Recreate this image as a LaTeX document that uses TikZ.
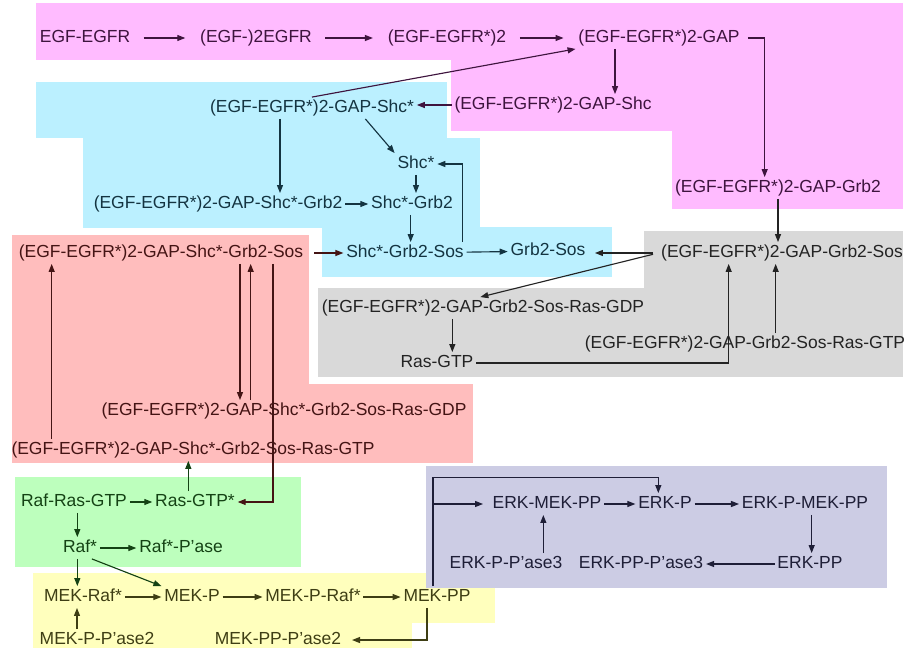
\documentclass[tikz,border=0pt]{standalone}
\usepackage{fontspec}
\setmainfont{Liberation Sans}
\usetikzlibrary{arrows.meta, calc}
\definecolor{pinkbg}{RGB}{255, 187, 255}
\definecolor{cyanbg}{RGB}{187, 240, 255}
\definecolor{greybg}{RGB}{217, 217, 217}
\definecolor{redbg}{RGB}{255, 189, 189}
\definecolor{greenbg}{RGB}{189, 255, 189}
\definecolor{yellowbg}{RGB}{255, 255, 189}
\definecolor{purplebg}{RGB}{204, 204, 228}
\definecolor{pinktxt}{RGB}{62, 20, 62}
\definecolor{cyantxt}{RGB}{20, 52, 65}
\definecolor{greytxt}{RGB}{35, 35, 35}
\definecolor{redtxt}{RGB}{68, 20, 20}
\definecolor{greentxt}{RGB}{20, 66, 20}
\definecolor{yellowtxt}{RGB}{62, 62, 20}
\definecolor{purpletxt}{RGB}{30, 30, 55}
\tikzset{
  sp/.style={font=\fontsize{13.1}{15}\selectfont, text height=9.5pt, text depth=2.5pt, inner sep=2pt},
  rx/.style={-{Triangle[length=6pt, width=4.5pt]}, line width=0.85pt},
  far/.style={shorten <=8pt, shorten >=9pt}
}

\begin{document}
\begin{tikzpicture}[x=0.75pt, y=-0.75pt]
  \useasboundingbox (0,0) rectangle (906,656);
  % coloured compartments
  \fill[pinkbg] (36,3) rectangle (903,60);
  \fill[pinkbg] (451,60) rectangle (672,131);
  \fill[pinkbg] (672,60) rectangle (903,209);
  \fill[cyanbg] (36,82) rectangle (447,138);
  \fill[cyanbg] (83,138) rectangle (480,228);
  \fill[cyanbg] (322,227) rectangle (612,277);
  \fill[greybg] (644,231) rectangle (903,288);
  \fill[greybg] (318,288) rectangle (903,377);
  \fill[redbg] (12,235) rectangle (309,384);
  \fill[redbg] (12,384) rectangle (473,463);
  \fill[greenbg] (15,477) rectangle (301,567);
  \fill[yellowbg] (33,573) rectangle (412,648);
  \fill[yellowbg] (412,573) rectangle (495,623);
  \fill[purplebg] (426,466) rectangle (887,588);

  % receptor
  \node[sp, text=pinktxt] (egfegfr) at (85,38) {EGF-EGFR};
  \node[sp, text=pinktxt] (egf2) at (256,38) {(EGF-)2EGFR};
  \node[sp, text=pinktxt] (dimer) at (447,38) {(EGF-EGFR*)2};
  \node[sp, text=pinktxt] (gap) at (659,38) {(EGF-EGFR*)2-GAP};
  \node[sp, text=pinktxt] (gapshc) at (553,105) {(EGF-EGFR*)2-GAP-Shc};
  \node[sp, text=pinktxt] (gapgrb) at (778,188) {(EGF-EGFR*)2-GAP-Grb2};

  % Shc branch
  \node[sp, text=cyantxt] (gapshcs) at (312,108) {(EGF-EGFR*)2-GAP-Shc*};
  \node[sp, text=cyantxt] (shcs) at (416,164) {Shc*};
  \node[sp, text=cyantxt] (gapshcgrb) at (218,204) {(EGF-EGFR*)2-GAP-Shc*-Grb2};
  \node[sp, text=cyantxt] (shcgrb) at (412,204) {Shc*-Grb2};
  \node[sp, text=cyantxt] (shcgrbsos) at (405,253) {Shc*-Grb2-Sos};
  \node[sp, text=cyantxt] (grbsos) at (548,251) {Grb2-Sos};

  \node[sp, text=redtxt] (gapshcsos) at (161,253) {(EGF-EGFR*)2-GAP-Shc*-Grb2-Sos};
  \node[sp, text=redtxt] (gapshcgdp) at (284,411) {(EGF-EGFR*)2-GAP-Shc*-Grb2-Sos-Ras-GDP};
  \node[sp, text=redtxt] (gapshcgtp) at (193,450) {(EGF-EGFR*)2-GAP-Shc*-Grb2-Sos-Ras-GTP};

  \node[sp, text=greytxt] (gapsos) at (782,253) {(EGF-EGFR*)2-GAP-Grb2-Sos};
  \node[sp, text=greytxt] (gapsosgdp) at (483,308) {(EGF-EGFR*)2-GAP-Grb2-Sos-Ras-GDP};
  \node[sp, text=greytxt] (rasgtp) at (437,363) {Ras-GTP};
  \node[sp, text=greytxt] (gapsosgtp) at (745,344) {(EGF-EGFR*)2-GAP-Grb2-Sos-Ras-GTP};

  % MAPK cascade
  \node[sp, text=greentxt] (rafras) at (74,502) {Raf-Ras-GTP};
  \node[sp, text=greentxt] (rasgtps) at (195,502) {Ras-GTP*};
  \node[sp, text=greentxt] (rafs) at (80,548) {Raf*};
  \node[sp, text=greentxt] (rafpase) at (181,548) {Raf*-P’ase};

  \node[sp, text=yellowtxt] (mekraf) at (83,597) {MEK-Raf*};
  \node[sp, text=yellowtxt] (mekp) at (192,597) {MEK-P};
  \node[sp, text=yellowtxt] (mekpraf) at (313,597) {MEK-P-Raf*};
  \node[sp, text=yellowtxt] (mekpp) at (437,597) {MEK-PP};
  \node[sp, text=yellowtxt] (mekpase) at (97,640) {MEK-P-P’ase2};
  \node[sp, text=yellowtxt] (mekpppase) at (278,640) {MEK-PP-P’ase2};

  \node[sp, text=purpletxt] (erkmek) at (547,504) {ERK-MEK-PP};
  \node[sp, text=purpletxt] (erkp) at (665,504) {ERK-P};
  \node[sp, text=purpletxt] (erkpmek) at (805,504) {ERK-P-MEK-PP};
  \node[sp, text=purpletxt] (erkpp) at (810,564) {ERK-PP};
  \node[sp, text=purpletxt] (erkpppase) at (641,564) {ERK-PP-P’ase3};
  \node[sp, text=purpletxt] (erkppase) at (506,564) {ERK-P-P’ase3};

  % reactions
  \draw[rx, far, pinktxt] (egfegfr) -- (egf2);
  \draw[rx, far, pinktxt] (egf2) -- (dimer);
  \draw[rx, far, pinktxt] (dimer) -- (gap);
  \draw[rx, pinktxt, shorten <=4pt] (gap.east) -| ([xshift=-10pt]gapgrb.north);
  \draw[rx, pinktxt] ([xshift=-33pt]gap.south) -- ([xshift=-33pt]gap.south |- gapshc.north);
  \draw[rx, pinktxt] (gapshc.west) -- (gapshc.west -| gapshcs.east);
  \draw[rx, pinktxt] (gapshcs.north) -- (gap.south west);

  \draw[rx, cyantxt] ([xshift=-24pt]gapshcs.south) -- ([xshift=-24pt]gapshcs.south |- gapshcgrb.north);
  \draw[rx, cyantxt] ([xshift=40pt]gapshcs.south) -- (shcs.north west);
  \draw[rx, cyantxt] (shcs.south) -- (shcs.south |- shcgrb.north);
  \draw[rx, cyantxt] (gapshcgrb) -- (shcgrb);
  \draw[rx, cyantxt] ([xshift=-1pt]shcgrb.south) -- ([xshift=-1pt]shcgrb.south |- shcgrbsos.north);
  \draw[rx, cyantxt] (shcgrbsos) -- (grbsos);
  \draw[rx, cyantxt] ([xshift=-3pt]shcgrbsos.north east) |- (shcs.east);
  \draw[rx, redtxt, shorten <=6pt] (gapshcsos) -- (shcgrbsos);

  \draw[rx, greytxt] (gapgrb.south) -- (gapgrb.south |- gapsos.north);
  \draw[rx, greytxt, shorten <=4pt, shorten >=5pt] (gapsos.west) -- (gapsos.west -| grbsos.east);
  \draw[rx, greytxt, shorten <=4pt] (gapsos.west) -- ([xshift=-2pt]gapsosgdp.north);
  \draw[rx, greytxt] ([xshift=-23pt]gapsosgdp.south) -- ([xshift=-23pt]gapsosgdp.south |- rasgtp.north);
  \draw[rx, greytxt] (rasgtp.east) -| ([xshift=-40pt]gapsos.south);
  \draw[rx, greytxt] ([xshift=23pt]gapsosgtp.north) -- ([xshift=23pt]gapsosgtp.north |- gapsos.south);

  \draw[rx, redtxt] ([xshift=-33pt]gapshcgdp.north |- gapshcsos.south) -- ([xshift=-33pt]gapshcgdp.north);
  \draw[rx, redtxt] ([xshift=-25pt]gapshcgdp.north) -- ([xshift=-25pt]gapshcgdp.north |- gapshcsos.south);
  \draw[rx, redtxt] ([xshift=-106pt]gapshcgtp.north) -- ([xshift=-106pt]gapshcgtp.north |- gapshcsos.south);
  \draw[rx, redtxt] ([xshift=84pt]gapshcsos.south) |- (rasgtps.east);

  \draw[rx, greentxt] ([xshift=-5pt]rasgtps.north) -- ([xshift=-5pt]rasgtps.north |- gapshcgtp.south);
  \draw[rx, greentxt] (rafras) -- (rasgtps);
  \draw[rx, greentxt] ([xshift=-2pt]rafs.north |- rafras.south) -- ([xshift=-2pt]rafs.north);
  \draw[rx, greentxt] (rafs) -- (rafpase);
  \draw[rx, greentxt] ([xshift=-2pt]rafs.south) -- ([xshift=-2pt]rafs.south |- mekraf.north);
  \draw[rx, greentxt] ([xshift=-6pt]rafs.south east) -- (mekp.north west);

  \draw[rx, yellowtxt] (mekraf) -- (mekp);
  \draw[rx, yellowtxt] (mekp) -- (mekpraf);
  \draw[rx, yellowtxt] (mekpraf) -- (mekpp);
  \draw[rx, yellowtxt] ([xshift=-15pt]mekpase.north) -- ([xshift=-15pt]mekpase.north |- mekraf.south);
  \draw[rx, yellowtxt, shorten >=6pt] ([xshift=-7.5pt]mekpp.south) |- (mekpppase.east);
  \draw[rx, purpletxt, shorten >=5pt] ([xshift=-3pt]mekpp.north) |- (erkmek.west);
  \draw[rx, purpletxt] ([xshift=-3pt]mekpp.north) |- ([xshift=-5pt, yshift=12pt]erkp.north) -- ([xshift=-5pt]erkp.north);

  \draw[rx, purpletxt] (erkmek) -- (erkp);
  \draw[rx, purpletxt] (erkp) -- (erkpmek);
  \draw[rx, purpletxt] ([xshift=5pt]erkpmek.south) -- ([xshift=5pt]erkpmek.south |- erkpp.north);
  \draw[rx, purpletxt] (erkpp) -- (erkpppase);
  \draw[rx, purpletxt] ([xshift=28pt]erkppase.north) -- ([xshift=28pt]erkppase.north |- erkmek.south);
\end{tikzpicture}
\end{document}
